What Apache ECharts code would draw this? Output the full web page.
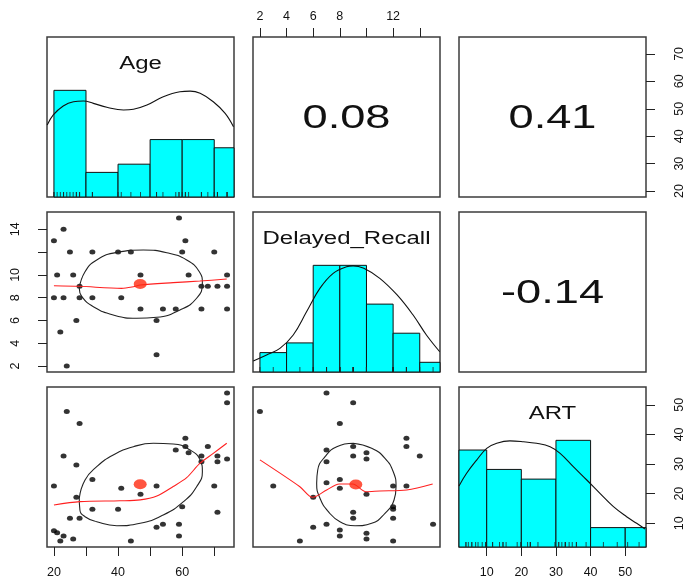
<!DOCTYPE html>
<html>
<head>
<meta charset="utf-8">
<script src="https://cdn.jsdelivr.net/npm/echarts@6/dist/echarts.min.js"></script>
<style>
  html, body { margin: 0; padding: 0; background: #fff; }
  #chart { width: 685px; height: 579px; }
</style>
</head>
<body>
<div id="chart"></div>
<script>
// ---- variables and axis extents (data range padded by 4%) ----
const variables = ['Age', 'Delayed_Recall', 'ART'];
const ageRange = [17.84, 76.16];
const recallRange = [1.48, 15.52];
const artRange = [2, 56];

// ---- tick marks and the labels printed beside them ----
const ageTicks = [20, 30, 40, 50, 60, 70];
const ageBottomLabels = [20, 40, 60];
const ageRightLabels = [20, 30, 40, 50, 60, 70];
const recallTicks = [2, 4, 6, 8, 10, 12, 14];
const recallTopLabels = [2, 4, 6, 8, 12];
const recallLeftLabels = [2, 4, 6, 8, 10, 14];
const artTicks = [10, 20, 30, 40, 50];
const artLabels = [10, 20, 30, 40, 50];

// ---- correlations shown in the upper panels ----
const corrAgeRecall = '0.08';
const corrAgeArt = '0.41';
const corrRecallArt = '-0.14';

// ---- histograms on the diagonal ----
const ageBreaks = [20, 30, 40, 50, 60, 70, 80];
const ageCounts = [13, 3, 4, 7, 7, 6];
const recallBreaks = [2, 4, 6, 8, 10, 12, 14, 16];
const recallCounts = [2, 3, 11, 11, 7, 4, 1];
const artBreaks = [0, 10, 20, 30, 40, 50, 60];
const artCounts = [10, 8, 7, 11, 2, 2];

// ---- kernel density curves (scaled so the peak is 1) ----
const ageDensity = [[17.9, 0.675], [19.8, 0.769], [22.9, 0.853], [26.1, 0.893], [29.2, 0.9], [32.3, 0.878],
  [36.5, 0.841], [41.7, 0.815], [44.8, 0.822], [49, 0.862], [54.1, 0.94], [59.3, 0.987], [62.5, 0.993],
  [65.6, 0.972], [69.7, 0.893], [73.4, 0.784], [76, 0.659]];
const recallDensity = [[1.5, 0.103], [2.5, 0.159], [3.5, 0.222], [4.5, 0.347], [5.5, 0.565], [6.5, 0.784],
  [7.5, 0.925], [8.5, 0.987], [9, 0.995], [9.8, 0.972], [11, 0.878], [12.3, 0.722], [13.5, 0.534],
  [14.5, 0.347], [15.5, 0.19]];
const artDensity = [[2, 0.572], [4.2, 0.691], [7.1, 0.815], [10, 0.925], [12.9, 0.972], [16.7, 0.995],
  [20.6, 0.987], [24.4, 0.972], [28.3, 0.94], [31.2, 0.878], [35, 0.753], [38.9, 0.628], [42.7, 0.503],
  [46.6, 0.378], [50.4, 0.284], [53.3, 0.222], [55.7, 0.169]];

// ---- lower panels: points, group means, loess fits, correlation ellipses ----
const ageRecallPoints = [[59, 15], [23, 14], [20, 13], [61, 13], [25, 12], [32, 12], [40, 12], [44, 12],
  [60, 12], [70, 12], [21, 10], [26, 10], [47, 10], [62, 10], [74, 10], [28, 9], [66, 9], [68, 9], [71, 9],
  [74, 9], [20, 8], [23, 8], [28, 8], [32, 8], [41, 8], [47, 7], [54, 7], [58, 7], [66, 7], [74, 7],
  [27, 6], [52, 6], [22, 5], [52, 3], [24, 2]];
const ageArtPoints = [[74, 54], [74, 50.7], [24, 47.7], [28, 43.7], [61, 38.7], [61, 35.9], [58, 34.7],
  [68, 35.9], [62, 33.8], [23, 32.7], [66, 32.7], [71, 32.7], [66, 30.8], [71, 30.8], [74, 31.7],
  [27, 29.7], [32, 24.8], [20, 22.6], [41, 21.8], [52, 22.6], [70, 22.6], [47, 19.8], [27, 18.8],
  [32, 14.7], [40, 14.7], [60, 15.6], [25, 11.7], [28, 11.7], [71, 13.7], [54, 9.7], [52, 8.7],
  [59, 9.7], [59, 5.7], [20, 7.5], [21, 6.8], [23, 5.7], [26, 4.7], [22, 4], [44, 4]];
const recallArtPoints = [[7, 54], [9, 50.7], [2, 47.7], [8, 43.7], [13, 38.7], [13, 35.9], [14, 32.7],
  [7, 34.7], [9, 35.9], [10, 33.8], [9, 32.7], [10, 31.7], [7, 30.8], [3, 22.6], [7, 23.7], [8, 24.8],
  [8, 21.8], [12, 22.6], [13, 22.6], [10, 19.8], [6, 18.8], [12, 15.6], [12, 14.7], [9, 13.7], [9, 11.7],
  [12, 11.7], [6, 8.7], [7, 9.7], [15, 9.7], [8, 7.7], [8, 5.7], [10, 6.6], [10, 4.7], [5, 4], [12, 4]];

const ageRecallMean = [46.9, 9.2];
const ageArtMean = [46.9, 23.2];
const recallArtMean = [9.2, 23.1];

const ageRecallLoess = [[20, 9.05], [28.1, 9.0], [41.1, 8.82], [44.8, 8.96], [46.9, 9.11], [57.2, 9.32],
  [65.5, 9.46], [73.9, 9.64]];
const ageArtLoess = [[20, 16.2], [28.1, 17.3], [40.6, 17.6], [46.9, 17.9], [52.1, 19.2], [57.2, 22.4],
  [61.4, 25.4], [65.5, 30.2], [69.7, 33.6], [73.9, 37]];
const recallArtLoess = [[2, 31.4], [5, 22.35], [5.96, 18.77], [7.01, 21.24], [7.96, 23.26], [8.97, 23.26],
  [9.97, 20.66], [11.01, 20.9], [13.02, 21.24], [14.97, 23.26]];

const ageRecallEllipse = [[27.9, 8.82], [29.7, 10.28], [33.35, 11.31], [39.6, 11.98], [47.9, 12.18],
  [55.2, 11.95], [61.4, 11.31], [65.35, 10.28], [66.3, 9.26], [64.5, 7.95], [59.3, 6.92], [52.1, 6.28],
  [45.8, 6.19], [38.5, 6.48], [32.3, 7.21], [28.7, 8.09], [27.9, 8.82]];
const ageArtEllipse = [[27.9, 18.44], [29.7, 24.61], [33.35, 29.1], [38.5, 33.05], [44.8, 35.85],
  [51, 37], [57.2, 36.76], [62.45, 34.74], [65.6, 31.36], [66.3, 27.41], [64.5, 22.35], [60.4, 17.29],
  [54.1, 12.8], [46.9, 10], [39.6, 9.19], [33.35, 10.54], [29.7, 12.23], [28.1, 14.49], [27.9, 18.44]];
const recallArtEllipse = [[9.01, 37], [7.77, 35.85], [6.89, 32.48], [6.34, 27.99], [6.26, 23.5],
  [6.51, 18.44], [7.14, 13.91], [8.01, 10.54], [9.14, 9.19], [10.39, 10], [11.39, 13.37], [12.07, 17.86],
  [12.22, 22.35], [12.01, 27.41], [11.39, 31.94], [10.39, 35.31], [9.01, 37]];

// ---- panel layout ----
const layout = { left: [47, 253, 459], top: [37, 212, 387], width: 187, height: 160 };
const FONT = '"Liberation Sans", Arial, Helvetica, sans-serif';
const TEXT_STRETCH = 1.37;

const ranges = [ageRange, recallRange, artRange];
const breaks = [ageBreaks, recallBreaks, artBreaks];
const counts = [ageCounts, recallCounts, artCounts];
const densities = [ageDensity, recallDensity, artDensity];
const rugValues = [ageArtPoints.map(p => p[0]), recallArtPoints.map(p => p[0]), ageArtPoints.map(p => p[1])];

// which outer axes carry ticks and labels
const xAxisSpecs = {
  '0,1': { position: 'top', ticks: recallTicks, labels: recallTopLabels, margin: 14 },
  '2,0': { position: 'bottom', ticks: ageTicks, labels: ageBottomLabels, margin: 19 },
  '2,2': { position: 'bottom', ticks: artTicks, labels: artLabels, margin: 19 }
};
const yAxisSpecs = {
  '1,0': { position: 'left', ticks: recallTicks, labels: recallLeftLabels, rotate: 90, margin: 25 },
  '0,2': { position: 'right', ticks: ageTicks, labels: ageRightLabels, rotate: 90, margin: 27 }
};

function axisOption(gridIndex, range, spec) {
  return {
    type: 'value', gridIndex, min: range[0], max: range[1],
    position: spec ? spec.position : undefined,
    axisLine: { show: false },
    splitLine: { show: false },
    axisTick: spec ? { show: true, customValues: spec.ticks, length: 9, lineStyle: { color: '#222', width: 1 } } : { show: false },
    axisLabel: spec ? {
      show: true, customValues: spec.labels, rotate: spec.rotate || 0, margin: spec.margin,
      fontFamily: FONT, fontSize: 12.5, color: '#111'
    } : { show: false }
  };
}

const grids = [], xAxes = [], yAxes = [];
for (let r = 0; r < 3; r++) {
  for (let c = 0; c < 3; c++) {
    const g = r * 3 + c;
    grids.push({
      left: layout.left[c], top: layout.top[r], width: layout.width, height: layout.height,
      containLabel: false, outerBoundsMode: 'none',
      show: true, borderColor: '#3c3c3c', borderWidth: 1.5, backgroundColor: 'transparent'
    });
    xAxes.push(axisOption(g, ranges[c], xAxisSpecs[r + ',' + c]));
    yAxes.push(axisOption(g, r === c ? [0, 1.5] : ranges[r], yAxisSpecs[r + ',' + c]));
  }
}
// ART ticks on the right of the bottom-right histogram
yAxes.push(axisOption(8, artRange, { position: 'right', ticks: artTicks, labels: artLabels, rotate: 90, margin: 27 }));

const series = [];

// diagonal: histogram, density curve and rug
for (let d = 0; d < 3; d++) {
  const idx = d * 4;
  const peak = Math.max(...counts[d]);
  series.push({
    type: 'custom', xAxisIndex: idx, yAxisIndex: idx, silent: true,
    data: counts[d].map((n, i) => [breaks[d][i], breaks[d][i + 1], n / peak]),
    renderItem(params, api) {
      const top = api.coord([api.value(0), api.value(2)]);
      const bottom = api.coord([api.value(1), 0]);
      const rect = echarts.graphic.clipRectByRect(
        { x: top[0], y: top[1], width: bottom[0] - top[0], height: bottom[1] - top[1] },
        { x: params.coordSys.x, y: params.coordSys.y, width: params.coordSys.width, height: params.coordSys.height }
      );
      if (!rect) return null;
      return { type: 'rect', shape: rect, style: { fill: '#00ffff', stroke: '#111', lineWidth: 1 } };
    }
  });
  series.push({
    type: 'line', xAxisIndex: idx, yAxisIndex: idx, data: densities[d], smooth: 0.4,
    showSymbol: false, silent: true, lineStyle: { color: '#111', width: 1.1 }
  });
  series.push({
    type: 'scatter', xAxisIndex: idx, yAxisIndex: idx, clip: false, silent: true,
    data: rugValues[d].map(v => [v, 0]),
    symbol: 'rect', symbolSize: [1, 5], symbolOffset: [0, -2.5],
    itemStyle: { color: '#222' }
  });
}

// lower panels
const lowerPanels = [
  { g: 3, points: ageRecallPoints, mean: ageRecallMean, loess: ageRecallLoess, ellipse: ageRecallEllipse },
  { g: 6, points: ageArtPoints, mean: ageArtMean, loess: ageArtLoess, ellipse: ageArtEllipse },
  { g: 7, points: recallArtPoints, mean: recallArtMean, loess: recallArtLoess, ellipse: recallArtEllipse }
];
lowerPanels.forEach(p => {
  series.push({
    type: 'scatter', xAxisIndex: p.g, yAxisIndex: p.g, data: p.points, silent: true,
    symbol: 'circle', symbolSize: [6, 5], itemStyle: { color: '#000' }
  });
  series.push({
    type: 'line', xAxisIndex: p.g, yAxisIndex: p.g, data: p.ellipse, smooth: 0.5,
    showSymbol: false, silent: true, lineStyle: { color: '#222', width: 1.1 }
  });
  series.push({
    type: 'line', xAxisIndex: p.g, yAxisIndex: p.g, data: p.loess, smooth: 0.3,
    showSymbol: false, silent: true, lineStyle: { color: '#ff2020', width: 1.1 }
  });
  series.push({
    type: 'scatter', xAxisIndex: p.g, yAxisIndex: p.g, data: [p.mean], silent: true,
    symbol: 'circle', symbolSize: [13, 10], itemStyle: { color: '#ff2a10' }, z: 5
  });
});

// panel texts: variable names on the diagonal, correlations above it
function stretchedText(text, x, y, size) {
  return {
    type: 'text', x, y, scaleX: TEXT_STRETCH, silent: true,
    style: { text, font: size + 'px ' + FONT, fill: '#111', textAlign: 'center', textVerticalAlign: 'middle' }
  };
}
const centerX = c => layout.left[c] + layout.width / 2;
const centerY = r => layout.top[r] + layout.height / 2;
const graphics = [];
variables.forEach((name, d) => graphics.push(stretchedText(name, centerX(d), layout.top[d] + 27, 17.5)));
graphics.push(stretchedText(corrAgeRecall, centerX(1), centerY(0) + 2, 33));
graphics.push(stretchedText(corrAgeArt, centerX(2), centerY(0) + 2, 33));
graphics.push(stretchedText(corrRecallArt, centerX(2), centerY(1) + 2, 33));

const chart = echarts.init(document.getElementById('chart'), null, { renderer: 'canvas' });
chart.setOption({
  animation: false,
  backgroundColor: '#fff',
  grid: grids,
  xAxis: xAxes,
  yAxis: yAxes,
  series,
  graphic: graphics
});
</script>
</body>
</html>
